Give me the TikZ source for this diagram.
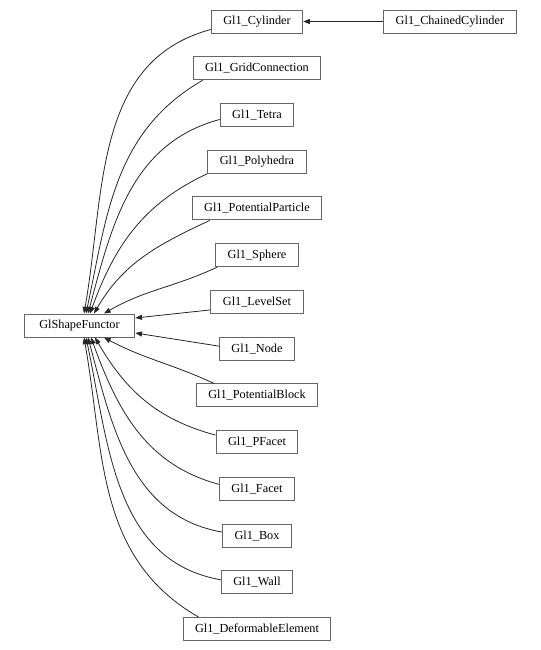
\documentclass[tikz,border=0pt]{standalone}
\usepackage{fontspec}
\setmainfont{Liberation Serif}
\usetikzlibrary{positioning, arrows.meta, calc}
\definecolor{boxB}{HTML}{666666}
\definecolor{edgeC}{HTML}{262626}

\begin{document}
\begin{tikzpicture}[x=0.75pt, y=0.75pt, cls/.style={draw=boxB, line width=0.75pt, minimum height=17.25pt, inner xsep=9pt, inner ysep=2pt, font=\fontsize{9.2}{11}\selectfont},inh/.style={-{Triangle[length=5pt, width=3.8pt]}, draw=edgeC, line width=0.6pt}]
\useasboundingbox (0,0) rectangle (541,-650);
\node[cls, minimum width=83pt] (base) at (79.5,-325.5) {GlShapeFunctor};
\node[cls] (cyl) at (257,-21.5) {Gl1\_Cylinder};
\node[cls, right=60pt of cyl] (chain) {Gl1\_ChainedCylinder};
\node[cls, below=17.05pt of cyl] (grid) {Gl1\_GridConnection};
\node[cls, below=17.05pt of grid] (tetra) {Gl1\_Tetra};
\node[cls, below=17.05pt of tetra] (poly) {Gl1\_Polyhedra};
\node[cls, below=17.05pt of poly] (ppart) {Gl1\_PotentialParticle};
\node[cls, below=17.05pt of ppart] (sphere) {Gl1\_Sphere};
\node[cls, below=17.05pt of sphere] (lset) {Gl1\_LevelSet};
\node[cls, below=17.05pt of lset] (gnode) {Gl1\_Node};
\node[cls, below=17.05pt of gnode] (pblock) {Gl1\_PotentialBlock};
\node[cls, below=17.05pt of pblock] (pfacet) {Gl1\_PFacet};
\node[cls, below=17.05pt of pfacet] (facet) {Gl1\_Facet};
\node[cls, below=17.05pt of facet] (gbox) {Gl1\_Box};
\node[cls, below=17.05pt of gbox] (wall) {Gl1\_Wall};
\node[cls, below=17.05pt of wall] (delem) {Gl1\_DeformableElement};
% derived classes point at their base
\draw[inh] (chain) -- (cyl);
\draw[inh] ($(cyl.west)+(0,-8)$) to[out=195, in=80] ($(base.north)+(4.5,0)$);
\draw[inh] ($(grid.south west)+(10,0)$) to[out=210, in=78] ($(base.north)+(6.5,0)$);
\draw[inh] ($(tetra.west)+(0,-4.5)$) to[out=195, in=75] ($(base.north)+(8.5,0)$);
\draw[inh] (poly.south west) to[out=205, in=70] ($(base.north)+(10.5,0)$);
\draw[inh] ($(ppart.south west)+(18,0)$) to[out=205, in=60] ($(base.north)+(14.5,0)$);
\draw[inh] ($(sphere.south west)+(2,0)$) to[out=205, in=30] ($(base.north)+(24.5,0)$);
\draw[inh] ($(lset.west)+(0,-8)$) -- ($(base.east)+(0,7.5)$);
\draw[inh] ($(gnode.west)+(0,2.5)$) -- ($(base.east)+(0,-7.5)$);
\draw[inh] ($(pblock.north west)+(18,0)$) to[out=155, in=-28] ($(base.south)+(24.5,0)$);
\draw[inh] ($(pfacet.west)+(0,7)$) to[out=165, in=-60] ($(base.south)+(15.5,0)$);
\draw[inh] ($(facet.west)+(0,4.5)$) to[out=165, in=-70] ($(base.south)+(11.5,0)$);
\draw[inh] ($(gbox.west)+(0,3.5)$) to[out=170, in=-75] ($(base.south)+(8.5,0)$);
\draw[inh] ($(wall.west)+(0,2.5)$) to[out=170, in=-78] ($(base.south)+(6.5,0)$);
\draw[inh] ($(delem.north west)+(16,0)$) to[out=150, in=-80] ($(base.south)+(4.5,0)$);
\end{tikzpicture}
\end{document}
